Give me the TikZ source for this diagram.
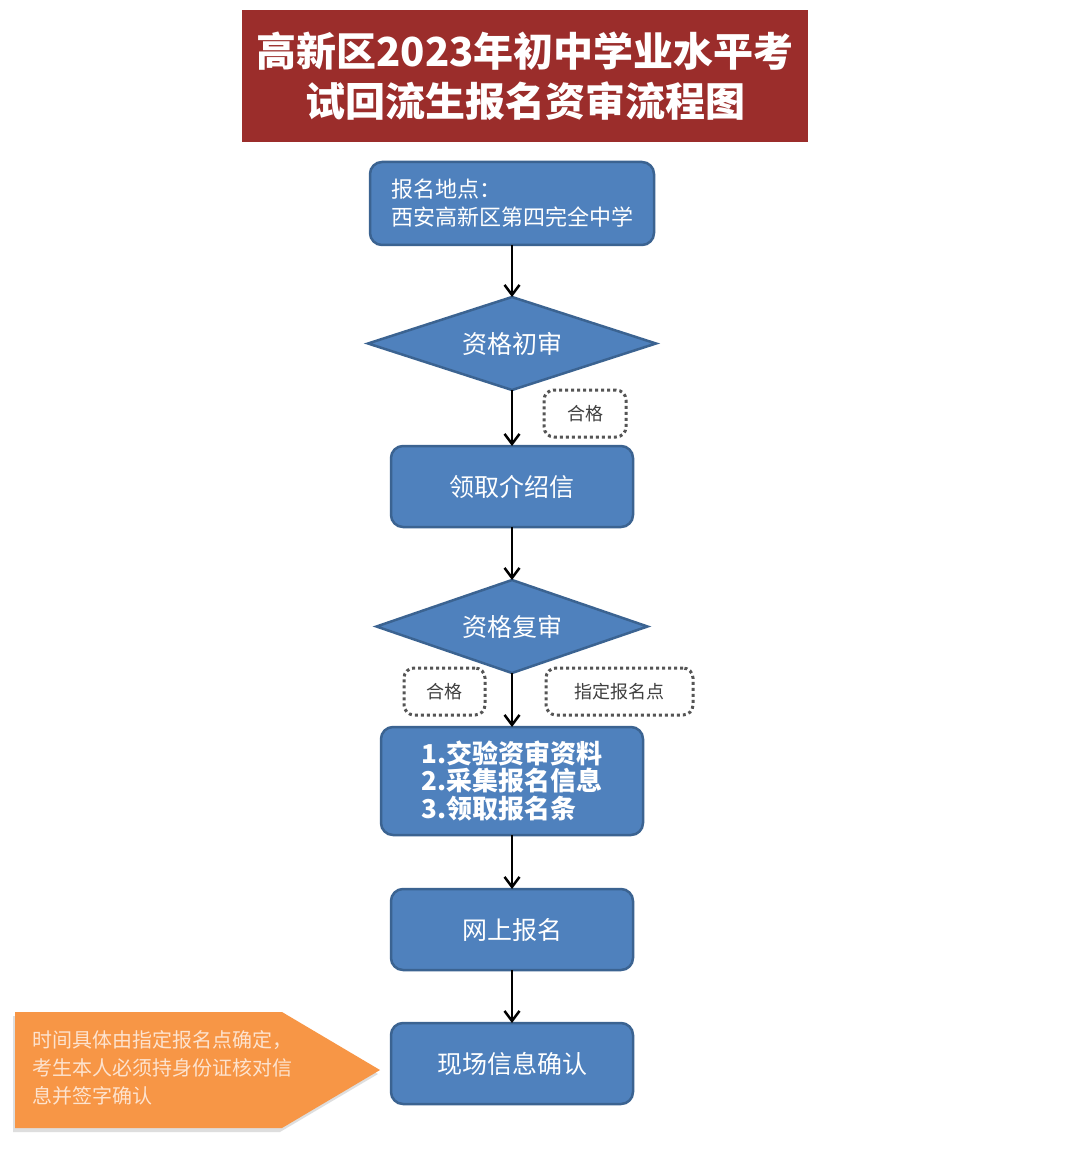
\documentclass[tikz,border=0pt]{standalone}
\usepackage{fontspec}
\setmainfont{Noto Sans CJK SC}
\usetikzlibrary{positioning,shapes.geometric,arrows.meta,shadows}
\definecolor{titlered}{HTML}{9B2D2B}
\definecolor{boxblue}{HTML}{4F81BD}
\definecolor{boxline}{HTML}{3B6391}
\definecolor{noteorange}{HTML}{F79646}
\definecolor{notetext}{HTML}{FDE3CF}
\definecolor{dotgray}{HTML}{555555}

\begin{document}
\begin{tikzpicture}[x=1pt,y=1pt,line width=2.5pt,>={Straight Barb[length=10pt,width=15pt]},
		stepbox/.style={draw=boxline,line width=2.5pt,fill=boxblue,rounded corners=12pt,text=white,outer sep=0pt,minimum width=242pt,minimum height=81pt,font=\fontsize{25}{30}\selectfont},
		decision/.style={shape=diamond,draw=boxline,line width=2.5pt,fill=boxblue,text=white,inner sep=0pt,outer sep=0pt,shape aspect=3.1,minimum height=93pt,font=\fontsize{25}{30}\selectfont},
		tagbox/.style={draw=dotgray,line width=3pt,dash pattern=on 3pt off 3pt,rounded corners=10pt,minimum height=47pt,font=\fontsize{18}{22}\selectfont,text=black!75},
		node distance=54pt]
		\useasboundingbox[fill=white] (0,0) rectangle (1080,-1150);
		\node[fill=titlered,minimum width=566pt,minimum height=132pt,text=white,align=center,font=\fontsize{40}{50}\selectfont\bfseries] (title) at (525,-76) {高新区2023年初中学业水平考\\试回流生报名资审流程图};
		\node[stepbox,minimum width=284pt,minimum height=83pt,align=left,font=\fontsize{22}{28}\selectfont] (place) at (512,-203.5) {报名地点：\\西安高新区第四完全中学};
		\node[decision,below=52pt of place,minimum width=288pt] (first) {资格初审};
		\node[stepbox,below=56pt of first] (letter) {领取介绍信};
		\node[decision,below=53pt of letter,minimum width=271pt] (second) {资格复审};
		\node[stepbox,below=of second,minimum width=262pt,minimum height=108pt,align=left,font=\fontsize{26}{27.5}\selectfont\bfseries] (collect) {1.交验资审资料\\2.采集报名信息\\3.领取报名条};
		\node[stepbox,below=of collect] (online) {网上报名};
		\node[stepbox,below=53pt of online] (confirm) {现场信息确认};
		
		\node[tagbox,minimum width=82pt] (pass1) at (585,-413.5) {合格};
		\node[tagbox,minimum width=81pt] (pass2) at (444.5,-691.5) {合格};
		\node[tagbox,minimum width=147pt] (site) at (619.5,-691.5) {指定报名点};
		
		\fill[noteorange,drop shadow={shadow xshift=-2pt,shadow yshift=-4pt,fill=black!25}] (15,-1012) -- (282,-1012) -- (380,-1070) -- (282,-1128) -- (15,-1128) -- cycle;
		\node[text=notetext,align=left,anchor=west,font=\fontsize{20}{28}\selectfont] (note) at (28,-1068) {时间具体由指定报名点确定，\\考生本人必须持身份证核对信\\息并签字确认};
		
		\draw[->] (place) -- (first);
		\draw[->] (first) -- (letter);
		\draw[->] (letter) -- (second);
		\draw[->] (second) -- (collect);
		\draw[->] (collect) -- (online);
		\draw[->] (online) -- (confirm);
	\end{tikzpicture}
\end{document}
